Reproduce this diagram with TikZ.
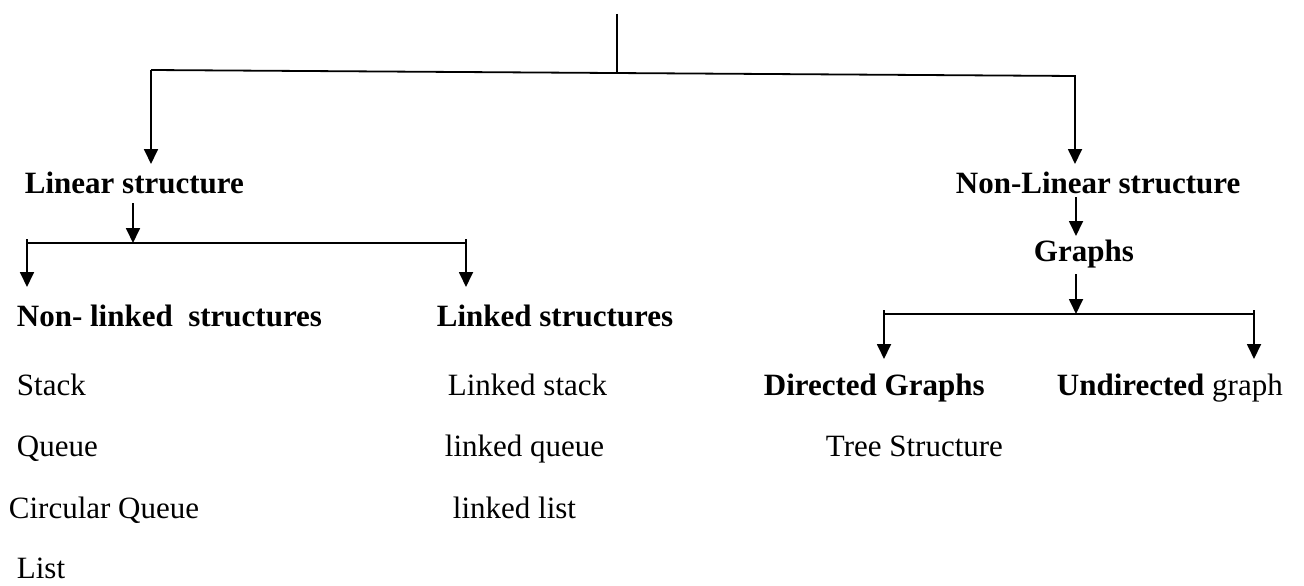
\documentclass[tikz,border=0pt]{standalone}
\usepackage{fontspec}
\setmainfont{Liberation Serif}
\usetikzlibrary{arrows.meta}

\begin{document}
\begin{tikzpicture}[x=1pt, y=-1pt, ->, >={Triangle[width=14pt,length=15pt]}, line width=1.8pt,
    lbl/.style={anchor=base west, inner sep=0pt, font=\fontsize{31}{36}\selectfont},
    head/.style={lbl, font=\fontsize{31}{36}\selectfont\bfseries}]
    \useasboundingbox (0,0) rectangle (1304,586);

    % headings and items
    \node[head] (lin)    at (24,193)   {Linear structure};
    \node[head] (nonlin) at (955,193)  {Non-Linear structure};
    \node[head] (graphs) at (1033,261) {Graphs};
    \node[head] (nonlk)  at (16,326)   {Non- linked~~structures};
    \node[head] (lk)     at (436,326)  {Linked structures};
    \node[head] (dir)    at (763,395)  {Directed Graphs};
    \node[lbl]  (undir)  at (1056,395) {\textbf{Undirected} graph};
    \node[lbl]  (tree)   at (825,456)  {Tree Structure};

    \node[lbl] (stack)  at (16,395)  {Stack};
    \node[lbl] (queue)  at (16,456)  {Queue};
    \node[lbl] (cqueue) at (8,518)   {Circular Queue};
    \node[lbl] (list)   at (16,578)  {List};
    \node[lbl] (lstack) at (447,395) {Linked stack};
    \node[lbl] (lqueue) at (444,456) {linked queue};
    \node[lbl] (llist)  at (452,518) {linked list};

    % junction points
    \coordinate (top)  at (617,14);
    \coordinate (topj) at (617,73);
    \coordinate (tl)   at (151,70);
    \coordinate (tr)   at (1075,76);
    \coordinate (linA) at (151,164);
    \coordinate (nlA)  at (1075,164);
    \coordinate (l0)   at (133,203);
    \coordinate (lj)   at (133,243);
    \coordinate (ll)   at (27,243);
    \coordinate (lr)   at (466,243);
    \coordinate (llA)  at (27,287);
    \coordinate (lrA)  at (466,287);
    \coordinate (n0)   at (1076,197);
    \coordinate (gA)   at (1076,236);
    \coordinate (g0)   at (1076,274);
    \coordinate (gj)   at (1076,314);
    \coordinate (gl)   at (884,314);
    \coordinate (gr)   at (1254,314);
    \coordinate (glA)  at (884,359);
    \coordinate (grA)  at (1254,359);

    % connectors
    \draw[-] (top) -- (topj);
    \draw (tl) -- (tr) -- (nlA);
    \draw (tl) -- (linA);
    \draw (l0) -- (lj);
    \draw[-] (ll) -- (lr);
    \draw ([yshift=4pt]ll) -- (llA);
    \draw ([yshift=4pt]lr) -- (lrA);
    \draw (n0) -- (gA);
    \draw (g0) -- (gj);
    \draw[-] (gl) -- (gr);
    \draw ([yshift=4pt]gl) -- (glA);
    \draw ([yshift=4pt]gr) -- (grA);
\end{tikzpicture}
\end{document}
